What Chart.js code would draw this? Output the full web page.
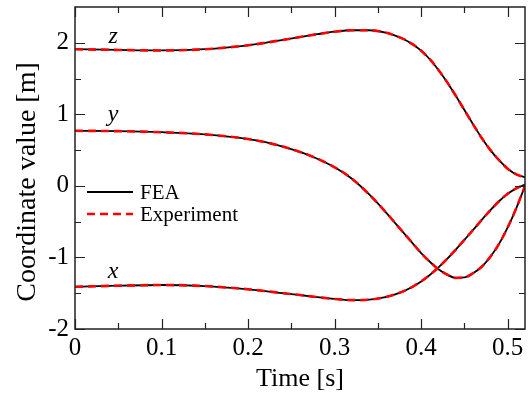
<!DOCTYPE html>
<html>
<head>
<meta charset="utf-8">
<script src="https://cdn.jsdelivr.net/npm/chart.js@4.4.0/dist/chart.umd.min.js"></script>
<style>
html,body{margin:0;padding:0;background:#fff;}
#wrap{width:528px;height:395px;position:relative;}
</style>
</head>
<body>
<div id="wrap"><canvas id="c" width="528" height="395"></canvas></div>
<script>
// Time samples [s]
const timeS = [0, 0.05, 0.1, 0.15, 0.2, 0.22, 0.24, 0.26, 0.28, 0.3, 0.32, 0.34, 0.36, 0.37, 0.38, 0.39, 0.4, 0.41, 0.42, 0.43, 0.44, 0.45, 0.46, 0.47, 0.48, 0.49, 0.5, 0.51, 0.52];
// FEA coordinates [m]
const feaX = [-1.41, -1.395, -1.385, -1.40, -1.445, -1.47, -1.50, -1.525, -1.555, -1.58, -1.597, -1.59, -1.55, -1.515, -1.47, -1.41, -1.335, -1.245, -1.14, -1.02, -0.89, -0.755, -0.615, -0.475, -0.34, -0.215, -0.11, -0.035, 0.02];
const feaY = [0.77, 0.765, 0.75, 0.72, 0.655, 0.61, 0.55, 0.475, 0.38, 0.26, 0.10, -0.12, -0.38, -0.52, -0.66, -0.80, -0.94, -1.06, -1.165, -1.24, -1.285, -1.28, -1.22, -1.13, -0.99, -0.81, -0.58, -0.31, 0.0];
const feaZ = [1.91, 1.90, 1.893, 1.91, 1.965, 2.0, 2.04, 2.08, 2.12, 2.155, 2.175, 2.175, 2.14, 2.10, 2.05, 1.98, 1.89, 1.77, 1.62, 1.45, 1.26, 1.06, 0.86, 0.67, 0.50, 0.36, 0.24, 0.16, 0.12];
// Experiment coordinates [m]
const expX = [-1.41, -1.395, -1.385, -1.40, -1.445, -1.47, -1.50, -1.525, -1.555, -1.58, -1.597, -1.59, -1.55, -1.515, -1.47, -1.41, -1.335, -1.245, -1.14, -1.02, -0.89, -0.755, -0.615, -0.475, -0.34, -0.215, -0.11, -0.035, 0.02];
const expY = [0.77, 0.765, 0.75, 0.72, 0.655, 0.61, 0.55, 0.475, 0.38, 0.26, 0.10, -0.12, -0.38, -0.52, -0.66, -0.80, -0.94, -1.06, -1.165, -1.24, -1.285, -1.28, -1.22, -1.13, -0.99, -0.81, -0.58, -0.31, 0.0];
const expZ = [1.91, 1.90, 1.893, 1.91, 1.965, 2.0, 2.04, 2.08, 2.12, 2.155, 2.175, 2.175, 2.14, 2.10, 2.05, 1.98, 1.89, 1.77, 1.62, 1.45, 1.26, 1.06, 0.86, 0.67, 0.50, 0.36, 0.24, 0.16, 0.12];
// Tick labels
const xTicks = [0, 0.1, 0.2, 0.3, 0.4, 0.5];
const yTicks = [-2, -1, 0, 1, 2];
const xMinor = [0.05, 0.15, 0.25, 0.35, 0.45];
const yMinor = [-1.5, -0.5, 0.5, 1.5];
// Series names, axis titles and curve labels
const seriesNames = ['FEA', 'Experiment'];
const xTitle = 'Time [s]';
const yTitle = 'Coordinate value [m]';
const curveLabels = [{text: 'z', t: 0.044, v: 2.08}, {text: 'y', t: 0.044, v: 1.0}, {text: 'x', t: 0.044, v: -1.20}];

const serif = '"Liberation Serif", "Times New Roman", serif';
const pts = arr => timeS.map((t, i) => ({x: t, y: arr[i]}));
const feaStyle = {borderColor: '#000', borderWidth: 1.8, borderDash: [], pointRadius: 0, fill: false, cubicInterpolationMode: 'monotone', order: 2};
const expStyle = {borderColor: '#ff0000', borderWidth: 2.6, borderDash: [8, 5], pointRadius: 0, fill: false, cubicInterpolationMode: 'monotone', order: 1};

const frame = {
  id: 'frame',
  afterDatasetsDraw(chart) {
    const {ctx, chartArea: a, scales: {x, y}} = chart;
    ctx.save();
    ctx.strokeStyle = '#222';
    ctx.lineWidth = 1.5;
    ctx.strokeRect(a.left, a.top, a.right - a.left, a.bottom - a.top);
    ctx.lineWidth = 1.2;
    const tickX = (vals, len) => vals.forEach(v => {
      const px = Math.round(x.getPixelForValue(v)) + 0.5;
      ctx.beginPath(); ctx.moveTo(px, a.bottom); ctx.lineTo(px, a.bottom - len);
      ctx.moveTo(px, a.top); ctx.lineTo(px, a.top + len); ctx.stroke();
    });
    const tickY = (vals, len) => vals.forEach(v => {
      const py = Math.round(y.getPixelForValue(v)) + 0.5;
      ctx.beginPath(); ctx.moveTo(a.left, py); ctx.lineTo(a.left + len, py);
      ctx.moveTo(a.right, py); ctx.lineTo(a.right - len, py); ctx.stroke();
    });
    tickX(xTicks, 10); tickX(xMinor, 6);
    tickY(yTicks, 10); tickY(yMinor, 6);
    // y axis title
    ctx.fillStyle = '#000';
    ctx.save();
    ctx.translate(28, 182);
    ctx.rotate(-Math.PI / 2);
    ctx.font = '28px ' + serif;
    ctx.textAlign = 'center';
    ctx.textBaseline = 'middle';
    ctx.fillText(yTitle, 0, 0);
    ctx.restore();
    // curve labels
    ctx.font = 'italic 24px ' + serif;
    ctx.textAlign = 'center';
    ctx.textBaseline = 'middle';
    curveLabels.forEach(l => ctx.fillText(l.text, x.getPixelForValue(l.t), y.getPixelForValue(l.v)));
    // legend
    const ds = chart.data.datasets;
    const items = [ds[0], ds[3]];
    ctx.font = '21px ' + serif;
    ctx.textAlign = 'left';
    items.forEach((d, i) => {
      const yy = 192 + i * 22;
      ctx.beginPath();
      ctx.strokeStyle = d.borderColor;
      ctx.lineWidth = d.borderWidth;
      ctx.setLineDash(d.borderDash || []);
      ctx.moveTo(87, yy); ctx.lineTo(133, yy); ctx.stroke();
      ctx.setLineDash([]);
      ctx.fillText(seriesNames[i], 140, yy + 1);
    });
    ctx.restore();
  }
};

new Chart(document.getElementById('c'), {
  type: 'line',
  data: {
    datasets: [
      Object.assign({label: 'FEA x', data: pts(feaX)}, feaStyle),
      Object.assign({label: 'FEA y', data: pts(feaY)}, feaStyle),
      Object.assign({label: 'FEA z', data: pts(feaZ)}, feaStyle),
      Object.assign({label: 'Experiment x', data: pts(expX)}, expStyle),
      Object.assign({label: 'Experiment y', data: pts(expY)}, expStyle),
      Object.assign({label: 'Experiment z', data: pts(expZ)}, expStyle)
    ]
  },
  options: {
    responsive: false,
    animation: false,
    layout: {padding: {top: 7, right: 3, left: 0, bottom: 0}},
    plugins: {legend: {display: false}, tooltip: {enabled: false}},
    scales: {
      x: {
        type: 'linear', min: 0, max: 0.52,
        afterBuildTicks: s => { s.ticks = xTicks.map(v => ({value: v})); },
        afterFit: s => { s.height = 66; s.paddingLeft = 0; s.paddingRight = 0; },
        grid: {display: false, drawTicks: false},
        border: {display: false},
        ticks: {color: '#000', font: {family: serif, size: 25}, padding: 4, maxRotation: 0,
          callback: v => String(v)},
        title: {display: true, text: xTitle, color: '#000', font: {family: serif, size: 26}, padding: {top: 0, bottom: 0}}
      },
      y: {
        type: 'linear', min: -2, max: 2.5,
        afterBuildTicks: s => { s.ticks = yTicks.map(v => ({value: v})); },
        afterFit: s => { s.width = 75; s.paddingTop = 0; s.paddingBottom = 0; },
        grid: {display: false, drawTicks: false},
        border: {display: false},
        ticks: {color: '#000', font: {family: serif, size: 25}, padding: 6,
          callback: v => String(v)},
        title: {display: false}
      }
    }
  },
  plugins: [frame]
});
</script>
</body>
</html>
